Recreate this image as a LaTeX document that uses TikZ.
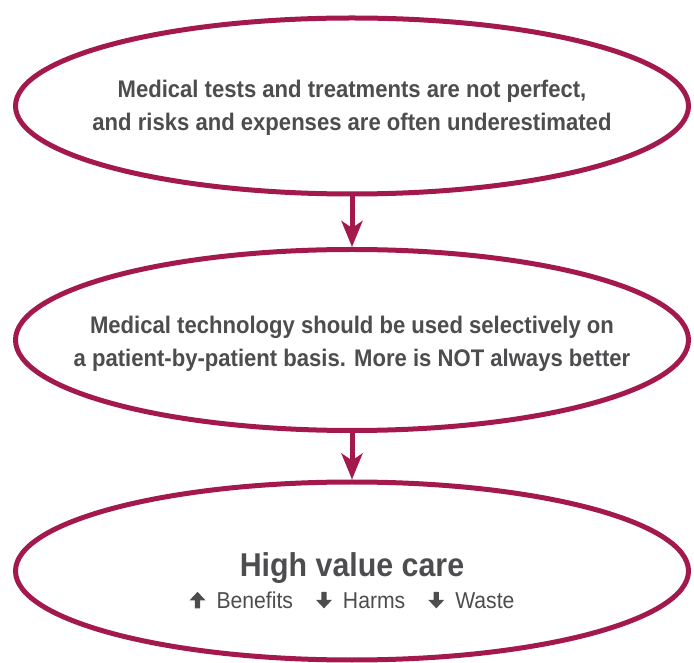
\documentclass[tikz,border=0pt]{standalone}
\usepackage{fontspec}
\setmainfont{Liberation Sans}[FakeStretch=0.92]
\usetikzlibrary{shapes.geometric, arrows.meta, positioning}

\definecolor{crimson}{HTML}{A3194E}
\definecolor{inkgrey}{HTML}{4D4D4F}

% small block arrows for the benefit/harm row
\newcommand{\arrowup}{\tikz[baseline=0pt,x=1pt,y=1pt]
  \fill[inkgrey] (-2.6,0) -- (-2.6,8) -- (-8,8) -- (0,16.5) -- (8,8) -- (2.6,8) -- (2.6,0) -- cycle;}
\newcommand{\arrowdown}{\tikz[baseline=0pt,x=1pt,y=1pt]
  \fill[inkgrey] (-2.6,16.5) -- (-2.6,8.5) -- (-8,8.5) -- (0,0) -- (8,8.5) -- (2.6,8.5) -- (2.6,16.5) -- cycle;}

\begin{document}
\begin{tikzpicture}[x=1pt, y=1pt,
  oval/.style={ellipse, draw=crimson, line width=5pt, fill=white,
               minimum width=673pt, minimum height=176pt, inner sep=0pt},
  words/.style={align=center, text=inkgrey, inner sep=0pt,
                font=\fontsize{24}{33}\selectfont\bfseries},
  link/.style={draw=crimson, line width=5pt,
               -{Stealth[length=26pt, width=21pt, inset=7pt]}}
]
\useasboundingbox (0,0) rectangle (694,662);
%% three ovals, top to bottom
\node[oval] (facts) at (352,556) {};
\node[oval, minimum height=181pt] (selective) at (352,322) {};
\node[oval, minimum height=178pt] (value) at (352,91) {};
%% their texts
\node[words] (factstext) at ([yshift=-1.5pt]facts.center)
  {Medical tests and treatments are not perfect,\\
   and risks and expenses are often underestimated};
\node[words] (selectivetext) at ([yshift=-3.5pt]selective.center)
  {Medical technology should be used selectively on\\
   a patient-by-patient basis. More is NOT always better};
\node[words, font=\fontsize{23}{26}\selectfont] (valuetext) at ([yshift=-9.5pt]value.center)
  {{\fontsize{33}{36}\selectfont\bfseries High value care}\\[6pt]
   \arrowup\hspace{11pt}Benefits\hspace{23pt}\arrowdown\hspace{11pt}Harms\hspace{23pt}\arrowdown\hspace{11pt}Waste};
%% connectors
\draw[link] (facts.south) -- (selective.north);
\draw[link] (selective.south) -- (value.north);
\end{tikzpicture}
\end{document}
